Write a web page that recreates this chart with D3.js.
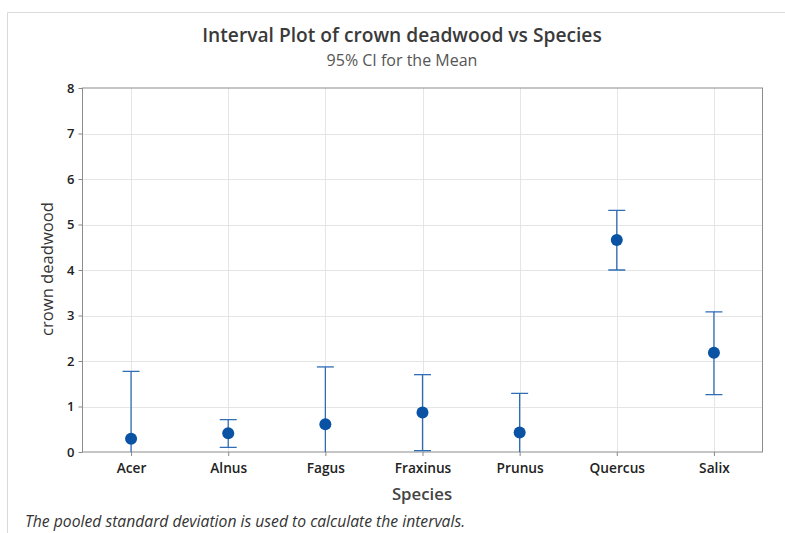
<!DOCTYPE html>
<html>
<head>
<meta charset="utf-8">
<script src="https://cdn.jsdelivr.net/npm/d3@7"></script>
<style>
  body { margin: 0; background: #fff; }
  svg { display: block; font-family: "Open Sans", "Noto Sans", sans-serif; }
</style>
</head>
<body>
<svg id="chart" width="785" height="533"></svg>
<script>
// Species and their 95% confidence intervals for mean crown deadwood
const species = ["Acer", "Alnus", "Fagus", "Fraxinus", "Prunus", "Quercus", "Salix"];
const means   = [0.29, 0.41, 0.61, 0.87, 0.43, 4.66, 2.18];
const lower   = [-1.19, 0.10, -0.65, 0.03, -0.43, 4.00, 1.26];
const upper   = [1.77, 0.71, 1.87, 1.70, 1.29, 5.31, 3.08];
const yTicks  = [0, 1, 2, 3, 4, 5, 6, 7, 8];

const svg = d3.select("#chart");
const plot = { left: 82.5, right: 762.5, top: 88, bottom: 452 };

const x = d3.scalePoint().domain(species).range([plot.left, plot.right]).padding(0.5);
const y = d3.scaleLinear().domain([0, 8]).range([plot.bottom, plot.top]);

// outer frame of the graph window
svg.append("path")
  .attr("d", `M7.5,540 V12.5 H790`)
  .attr("fill", "none").attr("stroke", "#d9d9d9");

// titles
svg.append("text").attr("x", 402).attr("y", 41.5).attr("text-anchor", "middle")
  .attr("font-size", 19.2).attr("font-weight", 600).attr("fill", "#3a3a3a")
  .text("Interval Plot of crown deadwood vs Species");
svg.append("text").attr("x", 402).attr("y", 65.5).attr("text-anchor", "middle")
  .attr("font-size", 16).attr("fill", "#555")
  .text("95% CI for the Mean");

// gridlines
svg.append("g").selectAll("line").data(yTicks.slice(1, -1)).join("line")
  .attr("x1", plot.left).attr("x2", plot.right)
  .attr("y1", d => Math.round(y(d)) + 0.5).attr("y2", d => Math.round(y(d)) + 0.5)
  .attr("stroke", "#e5e5e5");
svg.append("g").selectAll("line").data(species).join("line")
  .attr("x1", d => Math.round(x(d)) + 0.5).attr("x2", d => Math.round(x(d)) + 0.5)
  .attr("y1", plot.top).attr("y2", plot.bottom)
  .attr("stroke", "#e5e5e5");

// axes
const yAxis = svg.append("g").attr("transform", `translate(${plot.left},0)`)
  .call(d3.axisLeft(y).tickValues(yTicks).tickSize(4).tickPadding(4));
const xAxis = svg.append("g").attr("transform", `translate(0,${plot.bottom})`)
  .call(d3.axisBottom(x).tickSize(4).tickPadding(7));
[yAxis, xAxis].forEach(g => {
  g.select(".domain").remove();
  g.selectAll("line").attr("stroke", "#888");
  g.selectAll("text").attr("fill", "#222").attr("font-size", 13)
    .attr("font-family", "\"Open Sans\", sans-serif").attr("font-weight", 600);
});
xAxis.selectAll("text").attr("font-size", 13.7);

// plot area border
svg.append("rect")
  .attr("x", plot.left).attr("y", plot.top)
  .attr("width", plot.right - plot.left).attr("height", plot.bottom - plot.top)
  .attr("fill", "none").attr("stroke", "#8c8c8c");

// axis titles
svg.append("text").attr("transform", `translate(53,${(plot.top + plot.bottom) / 2 - 1}) rotate(-90)`)
  .attr("text-anchor", "middle").attr("font-size", 16.6).attr("fill", "#333")
  .text("crown deadwood");
svg.append("text").attr("x", 422).attr("y", 500)
  .attr("text-anchor", "middle").attr("font-size", 16.8).attr("font-weight", 600).attr("fill", "#444")
  .text("Species");

// footnote
svg.append("text").attr("x", 25).attr("y", 527)
  .attr("font-size", 15.7).attr("font-style", "italic").attr("fill", "#333")
  .text("The pooled standard deviation is used to calculate the intervals.");

// intervals, clipped to the data region
svg.append("clipPath").attr("id", "clip").append("rect")
  .attr("x", plot.left).attr("y", plot.top)
  .attr("width", plot.right - plot.left).attr("height", plot.bottom - plot.top);

const data = species.map((s, i) => ({ s, m: means[i], lo: lower[i], hi: upper[i] }));
const g = svg.append("g").attr("clip-path", "url(#clip)");
const lineColor = "#2f6db5";
const capHalf = 8.5;

g.selectAll("line.bar").data(data).join("line").attr("class", "bar")
  .attr("x1", d => x(d.s)).attr("x2", d => x(d.s))
  .attr("y1", d => y(d.lo)).attr("y2", d => y(d.hi))
  .attr("stroke", lineColor).attr("stroke-width", 1.3);
g.selectAll("line.hicap").data(data).join("line").attr("class", "hicap")
  .attr("x1", d => x(d.s) - capHalf).attr("x2", d => x(d.s) + capHalf)
  .attr("y1", d => y(d.hi)).attr("y2", d => y(d.hi))
  .attr("stroke", lineColor).attr("stroke-width", 1.3);
g.selectAll("line.locap").data(data.filter(d => d.lo >= 0)).join("line").attr("class", "locap")
  .attr("x1", d => x(d.s) - capHalf).attr("x2", d => x(d.s) + capHalf)
  .attr("y1", d => y(d.lo)).attr("y2", d => y(d.lo))
  .attr("stroke", lineColor).attr("stroke-width", 1.3);
svg.append("g").selectAll("circle").data(data).join("circle")
  .attr("cx", d => x(d.s)).attr("cy", d => y(d.m)).attr("r", 6)
  .attr("fill", "#0a52a3");
</script>
</body>
</html>
